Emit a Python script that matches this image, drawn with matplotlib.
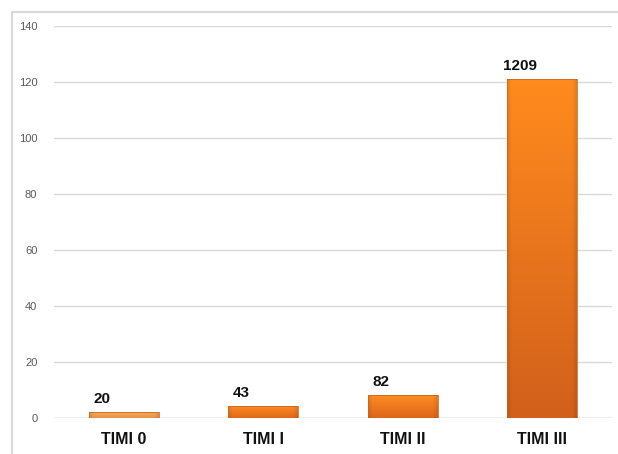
import numpy as np
import matplotlib
matplotlib.use("Agg")
import matplotlib.pyplot as plt
from matplotlib.colors import to_rgb
from matplotlib.lines import Line2D

# Data
categories = ["TIMI 0", "TIMI I", "TIMI II", "TIMI III"]
counts = [20, 43, 82, 1209]
scale = 10  # bars are plotted in tens on the value axis
y_ticks = [0, 20, 40, 60, 80, 100, 120, 140]

# Per-bar gradient colours (top, bottom)
top_colors = ["#F4A85A", "#FF8E24", "#FF8C22", "#FF8B1E"]
bottom_colors = ["#E69448", "#E0681A", "#DC6619", "#D2601B"]

plt.rcParams["font.family"] = ["Liberation Sans", "DejaVu Sans"]

fig = plt.figure(figsize=(6.18, 4.54), dpi=100)
fig.patch.set_facecolor("white")

W, H = 618, 454
ax = fig.add_axes([54 / W, (H - 418) / H, (612 - 54) / W, (418 - 26) / H])

# Outer frame (top and left only)
frame_col = "#D9D9D9"
fig.add_artist(Line2D([12 / W, 1.0], [1 - 12 / H, 1 - 12 / H], color=frame_col, lw=1.5,
                      transform=fig.transFigure))
fig.add_artist(Line2D([12 / W, 12 / W], [0, 1 - 12 / H], color=frame_col, lw=1.5,
                      transform=fig.transFigure))

x = np.arange(len(categories))
heights = np.array(counts) / scale
width = 0.5

bars = ax.bar(x, heights, width=width, color="none", edgecolor="none", zorder=2)

for i, rect in enumerate(bars):
    x0 = rect.get_x()
    h = rect.get_height()
    top = np.array(to_rgb(top_colors[i]))
    bot = np.array(to_rgb(bottom_colors[i]))
    n_v, n_h = 64, 64
    t = np.linspace(0, 1, n_v)[:, None, None]  # 0 top, 1 bottom
    grad = top * (1 - t) + bot * t
    grad = np.repeat(grad, n_h, axis=1)
    # slight bevel shading at the side edges
    u = np.linspace(-1, 1, n_h)
    shade = 1 - 0.10 * np.clip((np.abs(u) - 0.88) / 0.12, 0, 1)
    grad = grad * shade[None, :, None]
    im = ax.imshow(grad, extent=(x0, x0 + width, 0, h), aspect="auto",
                   origin="upper", zorder=2, interpolation="bilinear")
    im.set_clip_path(rect)
    # thin darker outline
    ax.add_patch(plt.Rectangle((x0, 0), width, h, fill=False,
                               edgecolor="#C8651E", lw=0.7, zorder=3, alpha=0.8))

for xi, h, c in zip(x, heights, counts):
    ax.annotate(f"{c}", xy=(xi, h), xytext=(-16, 6.5), textcoords="offset points",
                ha="center", va="baseline", fontsize=11, fontweight="bold",
                color="#111111")

ax.set_xlim(-0.5, len(categories) - 0.5)
ax.set_ylim(0, 140)
ax.set_yticks(y_ticks)
ax.set_yticklabels([str(v) for v in y_ticks])
ax.set_xticks(x)
ax.set_xticklabels(categories, fontsize=11.5, fontweight="bold", color="#111111")

ax.yaxis.grid(True, color="#D9D9D9", lw=1)
ax.set_axisbelow(True)
for s in ax.spines.values():
    s.set_visible(False)
ax.axhline(0, color="#D0D0D0", lw=1, zorder=1)

ax.tick_params(axis="y", length=0, pad=12, labelsize=8, labelcolor="#595959")
ax.tick_params(axis="x", length=0, pad=10)
ax.set_facecolor("white")

fig.savefig("out.png", dpi=100)
